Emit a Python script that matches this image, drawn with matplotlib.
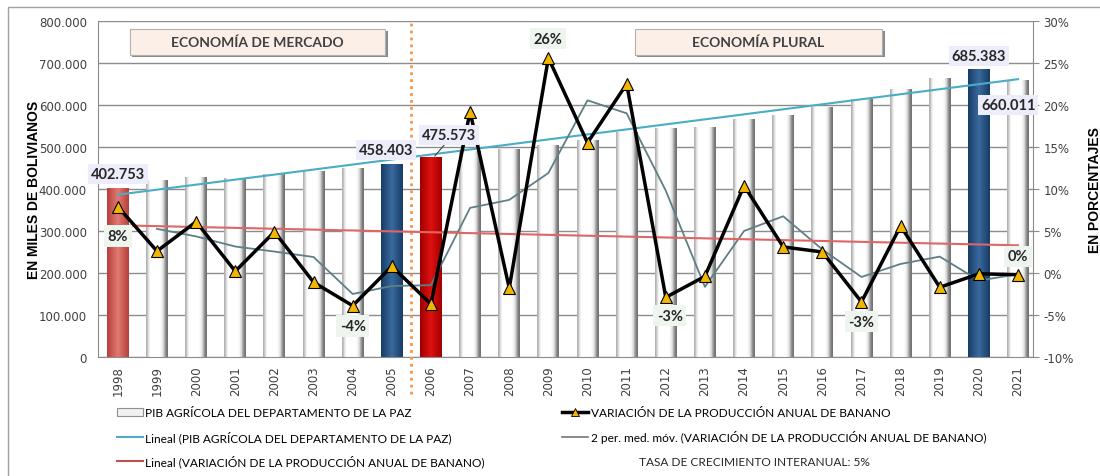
import numpy as np
import matplotlib
matplotlib.use('Agg')
import matplotlib.pyplot as plt
from matplotlib.patches import Rectangle
from matplotlib.lines import Line2D
from matplotlib.ticker import FuncFormatter, MultipleLocator

# Datos
years = list(range(1998, 2022))
pib = [402753, 422000, 428000, 426000, 435000, 442000, 449000, 458403, 475573, 490000,
       496000, 505000, 516000, 535000, 545000, 547000, 567000, 577000, 595000, 614000,
       638000, 664000, 685383, 660011]
variacion = [7.9, 2.6, 6.1, 0.2, 4.9, -1.1, -3.9, 0.8, -3.7, 19.2, -1.8, 25.6, 15.5, 22.5,
             -2.9, -0.4, 10.4, 3.1, 2.5, -3.45, 5.6, -1.7, -0.1, -0.2]

# colores especiales de barras
bar_colors = {1998: ('#b8403a', '#e07a72'), 2005: ('#173d66', '#3a6aa0'),
              2006: ('#a00000', '#e01010'), 2020: ('#173d66', '#3a6aa0')}

val_labels = {1998: '402.753', 2005: '458.403', 2006: '475.573', 2020: '685.383', 2021: '660.011'}
pct_labels = {1998: '8%', 2004: '-4%', 2009: '26%', 2012: '-3%', 2017: '-3%', 2021: '0%'}

x = np.array(years, dtype=float)
pib_a = np.array(pib, dtype=float)
var_a = np.array(variacion, dtype=float)

fig = plt.figure(figsize=(11, 4.77), dpi=100)
ax = fig.add_axes([0.089, 0.2495, 0.85, 0.7045])
ax2 = ax.twinx()

# barras con degradado
bars = ax.bar(x, pib_a, width=0.56, color='white', edgecolor='none', zorder=2)
white_grad = np.array([0.7, 0.9, 1, 1, 1, 1, 1, 1, 0.96, 0.85, 0.6, 0.45])
for yr, b in zip(years, bars):
    x0, w, h = b.get_x(), b.get_width(), b.get_height()
    if yr in bar_colors:
        c1, c2 = bar_colors[yr]
        cmap = matplotlib.colors.LinearSegmentedColormap.from_list('c', [c1, c2, c1])
        grad = np.linspace(0, 1, 40)[None, :]
        im = ax.imshow(grad, extent=[x0, x0 + w, 0, h], aspect='auto', cmap=cmap,
                       vmin=0, vmax=1, zorder=2.1, interpolation='bilinear')
    else:
        grad = white_grad[None, :]
        im = ax.imshow(grad, extent=[x0, x0 + w, 0, h], aspect='auto', cmap='gray',
                       vmin=0, vmax=1, zorder=2.1, interpolation='bilinear')
    im.set_clip_path(b)

# tendencia lineal PIB
p = np.polyfit(x, pib_a, 1)
ax.plot(x, np.polyval(p, x), color='#4bacc6', lw=1.5, zorder=3)

ax.set_xlim(1997.49, 2021.38)
ax.set_ylim(0, 800000)
ax.yaxis.set_major_locator(MultipleLocator(100000))
ax.yaxis.set_major_formatter(FuncFormatter(lambda v, _: f'{int(v):,}'.replace(',', '.')))
ax.grid(axis='y', color='#8c8c8c', lw=1)
ax.set_axisbelow(True)
ax.set_xticks(years)
ax.set_xticklabels([str(y) for y in years], rotation=90, fontsize=8.5, color='#404040')
ax.tick_params(axis='x', length=0, pad=6)
ax.tick_params(axis='y', length=0, labelsize=8.5, labelcolor='#404040', pad=8)
for s in ['left', 'bottom', 'right', 'top']:
    ax.spines[s].set_color('#8c8c8c')
ax.spines['top'].set_visible(False)
ax.set_ylabel('EN MILES DE BOLIVIANOS', fontsize=10, fontweight='bold',
              family='Liberation Sans')
ax.yaxis.set_label_coords(-0.061, 0.5)

# eje derecho
ma = np.convolve(var_a, [0.5, 0.5], mode='valid')
ax2.plot(x[1:], ma, color='#5f7f86', lw=1.3, zorder=3)
q = np.polyfit(x, var_a, 1)
ax2.plot(x, np.polyval(q, x), color='#e06666', lw=1.5, zorder=3)
ax2.plot(x, var_a, color='black', lw=2.5, marker='^', markersize=8,
         markerfacecolor='#f2b600', markeredgecolor='black', markeredgewidth=0.8, zorder=4)
ax2.set_ylim(-10, 30)
ax2.yaxis.set_major_locator(MultipleLocator(5))
ax2.yaxis.set_major_formatter(FuncFormatter(lambda v, _: f'{int(v)}%'))
ax2.tick_params(axis='y', length=4, color='#8c8c8c', labelsize=8.5, labelcolor='#404040')
for s in ['left', 'bottom', 'right', 'top']:
    ax2.spines[s].set_visible(False)
ax2.set_ylabel('EN PORCENTAJES', fontsize=10, fontweight='bold', family='Liberation Sans')
ax2.yaxis.set_label_coords(1.059, 0.5)

# linea divisoria
ax.plot([2005.5, 2005.5], [-0.11, 1.0], transform=ax.get_xaxis_transform(),
        color='#f79646', ls=(0, (1, 1.5)), lw=2, clip_on=False, zorder=5)

# etiquetas de valores
lab_font = dict(family=['Lato', 'DejaVu Sans'], fontsize=10.5, fontweight='bold', color='#262626')
val_pos = {1998: (1998, 435000), 2005: (2004.85, 492000), 2006: (2006.45, 528000),
           2020: (2020, 716000), 2021: (2020.75, 600000)}
for yr, txt in val_labels.items():
    px, py = val_pos[yr]
    ax2.text(px, py / 800000 * 40 - 10, txt, ha='center', va='center', zorder=6, **lab_font,
             bbox=dict(boxstyle='square,pad=0.2', fc='#ececfa', ec='none'))
i06 = years.index(2006)
ax.plot([2006.1, 2006.45], [pib_a[i06] + 3000, 517000], color='#404040', lw=0.8, zorder=6)

pct_pos = {1998: (1998, 4.4), 2004: (2004, -6.3), 2009: (2009, 27.9), 2012: (2012.1, -5.1),
           2017: (2017, -5.8), 2021: (2021, 2.0)}
for yr, txt in pct_labels.items():
    px, py = pct_pos[yr]
    ax2.text(px, py, txt, ha='center', va='center', zorder=6, **lab_font,
             bbox=dict(boxstyle='square,pad=0.25', fc='#eef5ee', ec='none'))

# cajas de periodos
for (bx0, bx1, txt) in [(0.034, 0.307, 'ECONOMÍA DE MERCADO'), (0.574, 0.839, 'ECONOMÍA PLURAL')]:
    ax2.add_patch(Rectangle((bx0 + 0.003, 0.893), bx1 - bx0, 0.077, transform=ax2.transAxes,
                            fc='#8a8a8a', ec='none', zorder=6, clip_on=False))
    ax2.add_patch(Rectangle((bx0, 0.899), bx1 - bx0, 0.077, transform=ax2.transAxes,
                            fc='#fcefe8', ec='#b0b0b0', lw=0.8, zorder=6.1, clip_on=False))
    ax2.text((bx0 + bx1) / 2, 0.937, txt, transform=ax2.transAxes, ha='center', va='center',
             fontsize=10, fontweight='bold', color='#404040', family=['Lato', 'DejaVu Sans'],
             zorder=7)

# leyenda
leg_font = {'family': ['Lato', 'DejaVu Sans'], 'size': 8.6}
h_bar = Rectangle((0, 0), 1, 1, fc='#f0f0f0', ec='#909090', lw=0.8)
h_lin1 = Line2D([], [], color='#4bacc6', lw=1.5)
h_lin2 = Line2D([], [], color='#c0504d', lw=1.5)
h_var = Line2D([], [], color='black', lw=2.5, marker='^', markersize=6,
               markerfacecolor='#f2b600', markeredgecolor='black', markeredgewidth=0.6)
h_ma = Line2D([], [], color='#808080', lw=1.3)
leg_kw = dict(loc='upper left', frameon=False, prop=leg_font, handlelength=2.2,
              handletextpad=0.2, labelspacing=1.0, borderpad=0, borderaxespad=0)
fig.legend([h_bar, h_lin1, h_lin2],
           ['PIB AGRÍCOLA DEL DEPARTAMENTO DE LA PAZ',
            'Lineal (PIB AGRÍCOLA DEL DEPARTAMENTO DE LA PAZ)',
            'Lineal (VARIACIÓN DE LA PRODUCCIÓN ANUAL DE BANANO)'],
           bbox_to_anchor=(0.106, 0.144), **leg_kw)
fig.legend([h_var, h_ma],
           ['VARIACIÓN DE LA PRODUCCIÓN ANUAL DE BANANO',
            '2 per. med. móv. (VARIACIÓN DE LA PRODUCCIÓN ANUAL DE BANANO)'],
           bbox_to_anchor=(0.511, 0.144), **leg_kw)
fig.text(0.686, 1 - 463 / 477, 'TASA DE CRECIMIENTO INTERANUAL: 5%', ha='center', va='center',
         fontsize=8.6, family=['Lato', 'DejaVu Sans'], color='#262626')

# borde exterior
fig.patches.append(Rectangle((8 / 1100, -0.01), 1.0, 1 - 8 / 477 + 0.01, transform=fig.transFigure,
                             fill=False, ec='#a0a0a0', lw=1))

fig.savefig('out.png', dpi=100)
